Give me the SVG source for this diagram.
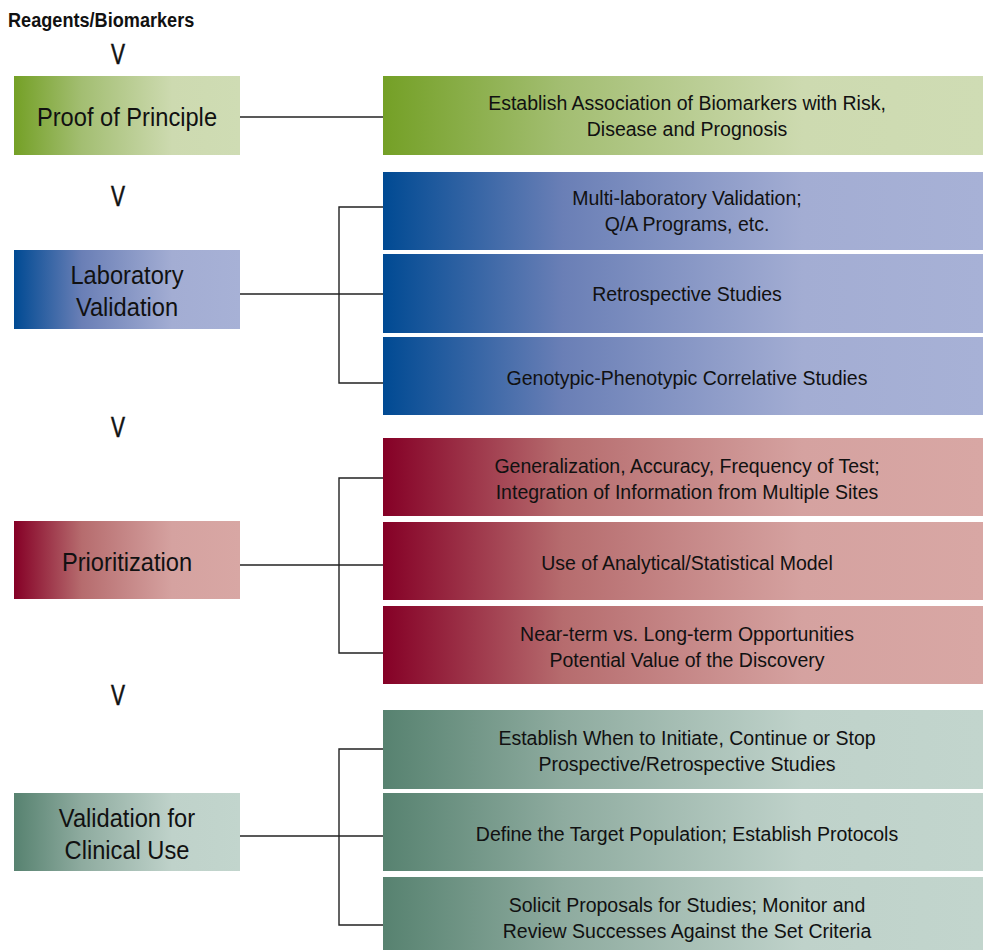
<svg xmlns="http://www.w3.org/2000/svg" width="983" height="950" viewBox="0 0 983 950">
<defs>
<linearGradient id="gG" x1="0" y1="0" x2="1" y2="0"><stop offset="0" stop-color="#74a026"/><stop offset="0.3" stop-color="#a3be72"/><stop offset="0.7" stop-color="#cddab0"/><stop offset="1" stop-color="#cfdcb4"/></linearGradient>
<linearGradient id="gB" x1="0" y1="0" x2="1" y2="0"><stop offset="0" stop-color="#004a93"/><stop offset="0.3" stop-color="#6a7fb6"/><stop offset="0.7" stop-color="#a3add3"/><stop offset="1" stop-color="#a7b1d6"/></linearGradient>
<linearGradient id="gR" x1="0" y1="0" x2="1" y2="0"><stop offset="0" stop-color="#850026"/><stop offset="0.3" stop-color="#b66c6e"/><stop offset="0.7" stop-color="#d5a2a0"/><stop offset="1" stop-color="#d8a7a4"/></linearGradient>
<linearGradient id="gT" x1="0" y1="0" x2="1" y2="0"><stop offset="0" stop-color="#578270"/><stop offset="0.3" stop-color="#8eab9f"/><stop offset="0.7" stop-color="#bfd2ca"/><stop offset="1" stop-color="#c2d5cd"/></linearGradient>
</defs>
<style>
text{font-family:"Liberation Sans",Arial,sans-serif;fill:#111;text-anchor:middle}
.L{font-size:26px}
.R{font-size:19.5px}
.H{font-size:19.5px;font-weight:bold;text-anchor:start}
.V{font-size:30px;stroke:#111;stroke-width:0.6}
.c{stroke:#222;stroke-width:1.4;fill:none}
</style>
<text class="H" x="0" y="27" transform="translate(8,0) scale(0.93,1)">Reagents/Biomarkers</text>
<g id="arrows">
<text class="V" x="0" y="64" transform="translate(118,0) scale(0.7,1)">V</text>
<text class="V" x="0" y="206" transform="translate(118,0) scale(0.7,1)">V</text>
<text class="V" x="0" y="437" transform="translate(118,0) scale(0.7,1)">V</text>
<text class="V" x="0" y="705" transform="translate(118,0) scale(0.7,1)">V</text>
</g>
<g id="connectors">
<line class="c" x1="240" y1="117" x2="383" y2="117"/>
<line class="c" x1="240" y1="294" x2="383" y2="294"/>
<path class="c" d="M383,207 H339 V383 H383"/>
<line class="c" x1="240" y1="565" x2="383" y2="565"/>
<path class="c" d="M383,478 H339 V653 H383"/>
<line class="c" x1="240" y1="836" x2="383" y2="836"/>
<path class="c" d="M383,749 H339 V925 H383"/>
</g>
<g id="proof"><rect x="14" y="76" width="226" height="79" fill="url(#gG)"/><text class="L" x="0" y="126" transform="translate(127,0) scale(0.91,1)">Proof of Principle</text></g>
<g id="proof-1"><rect x="383" y="76" width="600" height="79" fill="url(#gG)"/><text class="R" x="687" y="110">Establish Association of Biomarkers with Risk,</text><text class="R" x="687" y="136">Disease and Prognosis</text></g>
<g id="lab"><rect x="14" y="250" width="226" height="79" fill="url(#gB)"/><text class="L" x="0" y="284" transform="translate(127,0) scale(0.91,1)">Laboratory</text><text class="L" x="0" y="316" transform="translate(127,0) scale(0.91,1)">Validation</text></g>
<g id="lab-1"><rect x="383" y="172" width="600" height="78" fill="url(#gB)"/><text class="R" x="687" y="205">Multi-laboratory Validation;</text><text class="R" x="687" y="231">Q/A Programs, etc.</text></g>
<g id="lab-2"><rect x="383" y="254" width="600" height="79" fill="url(#gB)"/><text class="R" x="687" y="301">Retrospective Studies</text></g>
<g id="lab-3"><rect x="383" y="337" width="600" height="78" fill="url(#gB)"/><text class="R" x="687" y="385">Genotypic-Phenotypic Correlative Studies</text></g>
<g id="prio"><rect x="14" y="521" width="226" height="78" fill="url(#gR)"/><text class="L" x="0" y="571" transform="translate(127,0) scale(0.91,1)">Prioritization</text></g>
<g id="prio-1"><rect x="383" y="438" width="600" height="78" fill="url(#gR)"/><text class="R" x="687" y="473">Generalization, Accuracy, Frequency of Test;</text><text class="R" x="687" y="499">Integration of Information from Multiple Sites</text></g>
<g id="prio-2"><rect x="383" y="522" width="600" height="78" fill="url(#gR)"/><text class="R" x="687" y="570">Use of Analytical/Statistical Model</text></g>
<g id="prio-3"><rect x="383" y="606" width="600" height="78" fill="url(#gR)"/><text class="R" x="687" y="641">Near-term vs. Long-term Opportunities</text><text class="R" x="687" y="667">Potential Value of the Discovery</text></g>
<g id="clin"><rect x="14" y="793" width="226" height="78" fill="url(#gT)"/><text class="L" x="0" y="827" transform="translate(127,0) scale(0.91,1)">Validation for</text><text class="L" x="0" y="859" transform="translate(127,0) scale(0.91,1)">Clinical Use</text></g>
<g id="clin-1"><rect x="383" y="710" width="600" height="79" fill="url(#gT)"/><text class="R" x="687" y="745">Establish When to Initiate, Continue or Stop</text><text class="R" x="687" y="771">Prospective/Retrospective Studies</text></g>
<g id="clin-2"><rect x="383" y="793" width="600" height="78" fill="url(#gT)"/><text class="R" x="687" y="841">Define the Target Population; Establish Protocols</text></g>
<g id="clin-3"><rect x="383" y="877" width="600" height="73" fill="url(#gT)"/><text class="R" x="687" y="912">Solicit Proposals for Studies; Monitor and</text><text class="R" x="687" y="938">Review Successes Against the Set Criteria</text></g>
</svg>
